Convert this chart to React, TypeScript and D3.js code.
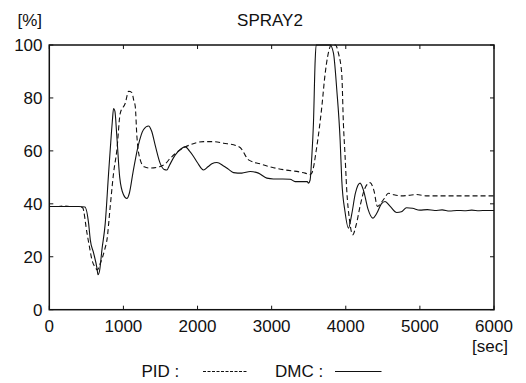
import React from "react";
import * as d3 from "d3";

const title = "SPRAY2";
const yUnit = "[%]";
const xUnit = "[sec]";
const xTicks = [0, 1000, 2000, 3000, 4000, 5000, 6000];
const yTicks = [0, 20, 40, 60, 80, 100];

const dmcTime = [0, 100, 200, 300, 400, 480, 530, 553, 598, 643, 657, 680, 710, 755, 800, 822, 850, 867, 885, 910, 950, 1000, 1047, 1080, 1130, 1200, 1270, 1339, 1380, 1430, 1500, 1550, 1587, 1620, 1700, 1766, 1834, 1890, 1946, 2000, 2081, 2140, 2193, 2261, 2351, 2420, 2486, 2598, 2710, 2822, 2935, 3024, 3150, 3249, 3317, 3400, 3480, 3497, 3519, 3540, 3564, 3587, 3600, 3700, 3789, 3834, 3879, 3924, 3946, 3990, 4036, 4080, 4130, 4193, 4240, 4300, 4364, 4420, 4480, 4530, 4600, 4688, 4750, 4820, 4900, 5000, 5100, 5200, 5300, 5400, 5500, 5600, 5700, 5800, 5900, 6000];
const dmcValue = [39, 39, 39, 39, 39, 38.8, 32.7, 26.4, 21.4, 15.7, 13.2, 15, 22.6, 32.7, 51.6, 60.4, 71, 76, 75, 66, 50, 43.5, 42, 44, 52, 62, 68, 69.4, 67.5, 62, 55, 53, 52.8, 54.5, 58.5, 60.5, 61.6, 60, 57.9, 55.5, 52.8, 54, 55.1, 55.6, 54.3, 53, 51.8, 51.6, 52.2, 51.6, 49.7, 49.4, 49.4, 49.3, 48.4, 48.4, 48.4, 47.8, 49, 57, 70.4, 94, 100, 100, 100, 96.9, 83, 64, 49, 37, 30.8, 36, 44, 47.8, 45, 38, 34.6, 36.5, 40, 40.9, 39, 36.7, 37, 38.5, 38.3, 37.6, 37.8, 37.5, 37.7, 37.3, 37.5, 37.4, 37.6, 37.4, 37.5, 37.5];

const pidTime = [0, 100, 200, 300, 400, 450, 508, 540, 575, 620, 650, 680, 720, 750, 778, 822, 867, 912, 957, 1025, 1070, 1115, 1140, 1160, 1182, 1227, 1280, 1362, 1497, 1560, 1632, 1766, 1901, 2081, 2216, 2351, 2531, 2600, 2650, 2688, 2845, 3002, 3182, 3384, 3452, 3510, 3541, 3609, 3677, 3721, 3789, 3800, 3860, 3900, 3946, 3968, 3991, 4013, 4050, 4094, 4140, 4200, 4260, 4328, 4380, 4427, 4480, 4520, 4575, 4650, 4750, 4850, 4950, 5100, 5300, 5500, 5700, 6000];
const pidValue = [39, 39, 39.2, 39, 39, 38.5, 29, 24, 18.9, 16, 15, 17, 20, 23, 26.4, 39, 51.6, 60.4, 74.2, 78, 82.5, 82, 79, 76.7, 65.4, 56.6, 54, 53.5, 54.1, 55, 57.2, 60.4, 62.3, 63.5, 63.5, 62.9, 61.9, 60.5, 58, 56.6, 55.1, 53.8, 52.8, 52, 51.6, 51, 51.6, 61.6, 76.7, 89, 99.4, 100, 100, 97, 89, 70.4, 57.9, 45.3, 34, 28.3, 32, 40, 46, 48, 45, 39, 40.5, 42, 44, 43.4, 43, 43.2, 43.5, 43, 43, 43, 43, 43];

const legendPid = "PID :";
const legendDmc = "DMC :";

const W = 526;
const H = 383;
const left = 49.3;
const right = 494;
const top = 45;
const bottom = 309.7;
const FONT = "'Liberation Sans', Arial, sans-serif";

export default function App() {
  const x = d3.scaleLinear().domain([0, 6000]).range([left, right]);
  const y = d3.scaleLinear().domain([0, 100]).range([bottom, top]);
  const line = d3
    .line<[number, number]>()
    .x((d) => x(d[0]))
    .y((d) => y(d[1]))
    .curve(d3.curveMonotoneX);
  const dmc = dmcTime.map((t, i) => [t, dmcValue[i]] as [number, number]);
  const pid = pidTime.map((t, i) => [t, pidValue[i]] as [number, number]);
  const fs = 17;
  return (
    <svg
      width={W}
      height={H}
      style={{ position: "absolute", left: 0, top: 0, background: "#fff" }}
      fontFamily={FONT}
    >
      <rect x={0} y={0} width={W} height={H} fill="#fff" />
      <defs>
        <clipPath id="plotclip">
          <rect x={left} y={top - 1} width={right - left} height={bottom - top + 1} />
        </clipPath>
      </defs>
      <g clipPath="url(#plotclip)" fill="none">
        <path d={line(pid) || ""} stroke="#111" strokeWidth={1.1} strokeDasharray="5,3" />
        <path d={line(dmc) || ""} stroke="#111" strokeWidth={1.1} />
      </g>
      <rect
        x={left}
        y={top}
        width={right - left}
        height={bottom - top}
        fill="none"
        stroke="#111"
        strokeWidth={1.5}
      />
      {xTicks.map((t) => (
        <g key={"x" + t}>
          <line x1={x(t)} x2={x(t)} y1={bottom} y2={bottom - 4} stroke="#111" />
          <line x1={x(t)} x2={x(t)} y1={top} y2={top + 4} stroke="#111" />
          <text x={x(t)} y={332} textAnchor="middle" fontSize={fs} fill="#111">
            {t}
          </text>
        </g>
      ))}
      {yTicks.map((v) => (
        <g key={"y" + v}>
          <line x1={left} x2={left + 4} y1={y(v)} y2={y(v)} stroke="#111" />
          <line x1={right} x2={right - 4} y1={y(v)} y2={y(v)} stroke="#111" />
          <text x={42.5} y={y(v) + 6} textAnchor="end" fontSize={fs} fill="#111">
            {v}
          </text>
        </g>
      ))}
      <text x={42} y={26} textAnchor="end" fontSize={fs} fill="#111">
        {yUnit}
      </text>
      <text x={270} y={26} textAnchor="middle" fontSize={fs} fill="#111">
        {title}
      </text>
      <text x={508} y={352} textAnchor="end" fontSize={fs} fill="#111">
        {xUnit}
      </text>
      <text x={141.5} y={377} fontSize={fs} fill="#111">
        {legendPid}
      </text>
      <line x1={203} x2={248} y1={371.5} y2={371.5} stroke="#111" strokeWidth={1} strokeDasharray="3,1.5" />
      <text x={275} y={377} fontSize={fs} fill="#111">
        {legendDmc}
      </text>
      <line x1={335} x2={381.5} y1={371.5} y2={371.5} stroke="#111" strokeWidth={1} />
    </svg>
  );
}
